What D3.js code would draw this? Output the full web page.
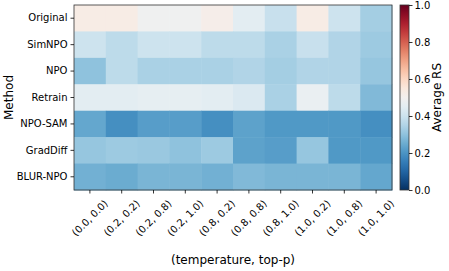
<!DOCTYPE html>
<html><head><meta charset="utf-8">
<script src="https://cdn.jsdelivr.net/npm/d3@7"></script>
<style>body{margin:0;background:#fff}svg{display:block}text{font-family:"DejaVu Sans",sans-serif;fill:#000}</style>
</head><body>
<svg id="c" width="449" height="271"></svg>
<script>
const methods = ["Original","SimNPO","NPO","Retrain","NPO-SAM","GradDiff","BLUR-NPO"];
const settings = ["(0.0, 0.0)","(0.2, 0.2)","(0.2, 0.8)","(0.2, 1.0)","(0.8, 0.2)","(0.8, 0.8)","(0.8, 1.0)","(1.0, 0.2)","(1.0, 0.8)","(1.0, 1.0)"];
const original = [0.53,0.53,0.49,0.49,0.52,0.45,0.39,0.53,0.40,0.33];
const simnpo   = [0.40,0.37,0.40,0.40,0.37,0.37,0.34,0.39,0.35,0.32];
const npo      = [0.30,0.37,0.34,0.34,0.34,0.35,0.33,0.35,0.35,0.31];
const retrain  = [0.45,0.45,0.46,0.46,0.45,0.43,0.34,0.47,0.37,0.28];
const npoSam   = [0.24,0.19,0.22,0.22,0.19,0.23,0.21,0.21,0.21,0.19];
const gradDiff = [0.31,0.32,0.315,0.30,0.32,0.23,0.22,0.31,0.21,0.21];
const blurNpo  = [0.26,0.25,0.27,0.27,0.26,0.28,0.27,0.27,0.27,0.24];
const cbTicks = [0.0,0.2,0.4,0.6,0.8,1.0];

const rows = [original,simnpo,npo,retrain,npoSam,gradDiff,blurNpo];
const svg = d3.select("#c");
const L=74,R=392,T=5,B=190;
const x = d3.scaleBand().domain(settings).range([L,R]).padding(0);
const y = d3.scaleBand().domain(methods).range([T,B]).padding(0);
const color = d3.scaleSequential(t=>d3.interpolateRdBu(1-t)).domain([0,1]);

const cells=[];
rows.forEach((r,i)=>r.forEach((v,j)=>cells.push({m:methods[i],s:settings[j],v})));
svg.append("g").selectAll("rect").data(cells).join("rect")
  .attr("x",d=>x(d.s)).attr("y",d=>y(d.m))
  .attr("width",x.bandwidth()+0.5).attr("height",y.bandwidth()+0.5)
  .attr("fill",d=>color(d.v));
svg.append("rect").attr("x",L).attr("y",T).attr("width",R-L).attr("height",B-T)
  .attr("fill","none").attr("stroke","#333").attr("stroke-width",0.8);

// y axis
const yA = svg.append("g").attr("transform",`translate(${L},0)`)
  .call(d3.axisLeft(y).tickSize(3.5).tickPadding(3));
yA.select(".domain").remove();
yA.selectAll("text").attr("font-size",10).attr("font-family","DejaVu Sans");
yA.selectAll("line").attr("stroke","#000").attr("stroke-width",0.8);

// x axis
const xA = svg.append("g").attr("transform",`translate(0,${B})`)
  .call(d3.axisBottom(x).tickSize(3.5));
xA.select(".domain").remove();
xA.selectAll("line").attr("stroke","#000").attr("stroke-width",0.8);
xA.selectAll("text").attr("font-size",10).attr("font-family","DejaVu Sans")
  .attr("y",0).attr("dy",null).attr("text-anchor","middle")
  .attr("dominant-baseline","central")
  .attr("transform","translate(0,28) rotate(-45)");

svg.append("text").attr("x",(L+R)/2).attr("y",264).attr("text-anchor","middle")
  .attr("font-size",12).text("(temperature, top-p)");
svg.append("text").attr("transform",`translate(13,${(T+B)/2}) rotate(-90)`)
  .attr("text-anchor","middle").attr("font-size",12).text("Method");

// colorbar
const cx0=400,cx1=409;
const cy = d3.scaleLinear().domain([0,1]).range([B,T]);
const defs = svg.append("defs");
const grad = defs.append("linearGradient").attr("id","g").attr("x1",0).attr("y1",1).attr("x2",0).attr("y2",0);
d3.range(0,1.0001,0.05).forEach(t=>grad.append("stop").attr("offset",t).attr("stop-color",color(t)));
svg.append("rect").attr("x",cx0).attr("y",T).attr("width",cx1-cx0).attr("height",B-T).attr("fill","url(#g)");
svg.append("rect").attr("x",cx0).attr("y",T).attr("width",cx1-cx0).attr("height",B-T)
  .attr("fill","none").attr("stroke","#333").attr("stroke-width",0.8);
const cA = svg.append("g").attr("transform",`translate(${cx1},0)`)
  .call(d3.axisRight(cy).tickValues(cbTicks).tickFormat(d3.format(".1f")).tickSize(3.5).tickPadding(2));
cA.select(".domain").remove();
cA.selectAll("line").attr("stroke","#000").attr("stroke-width",0.8);
cA.selectAll("text").attr("font-size",10).attr("font-family","DejaVu Sans");
svg.append("text").attr("transform",`translate(441,${(T+B)/2}) rotate(-90)`)
  .attr("text-anchor","middle").attr("font-size",12).text("Average RS");
</script>
</body></html>
